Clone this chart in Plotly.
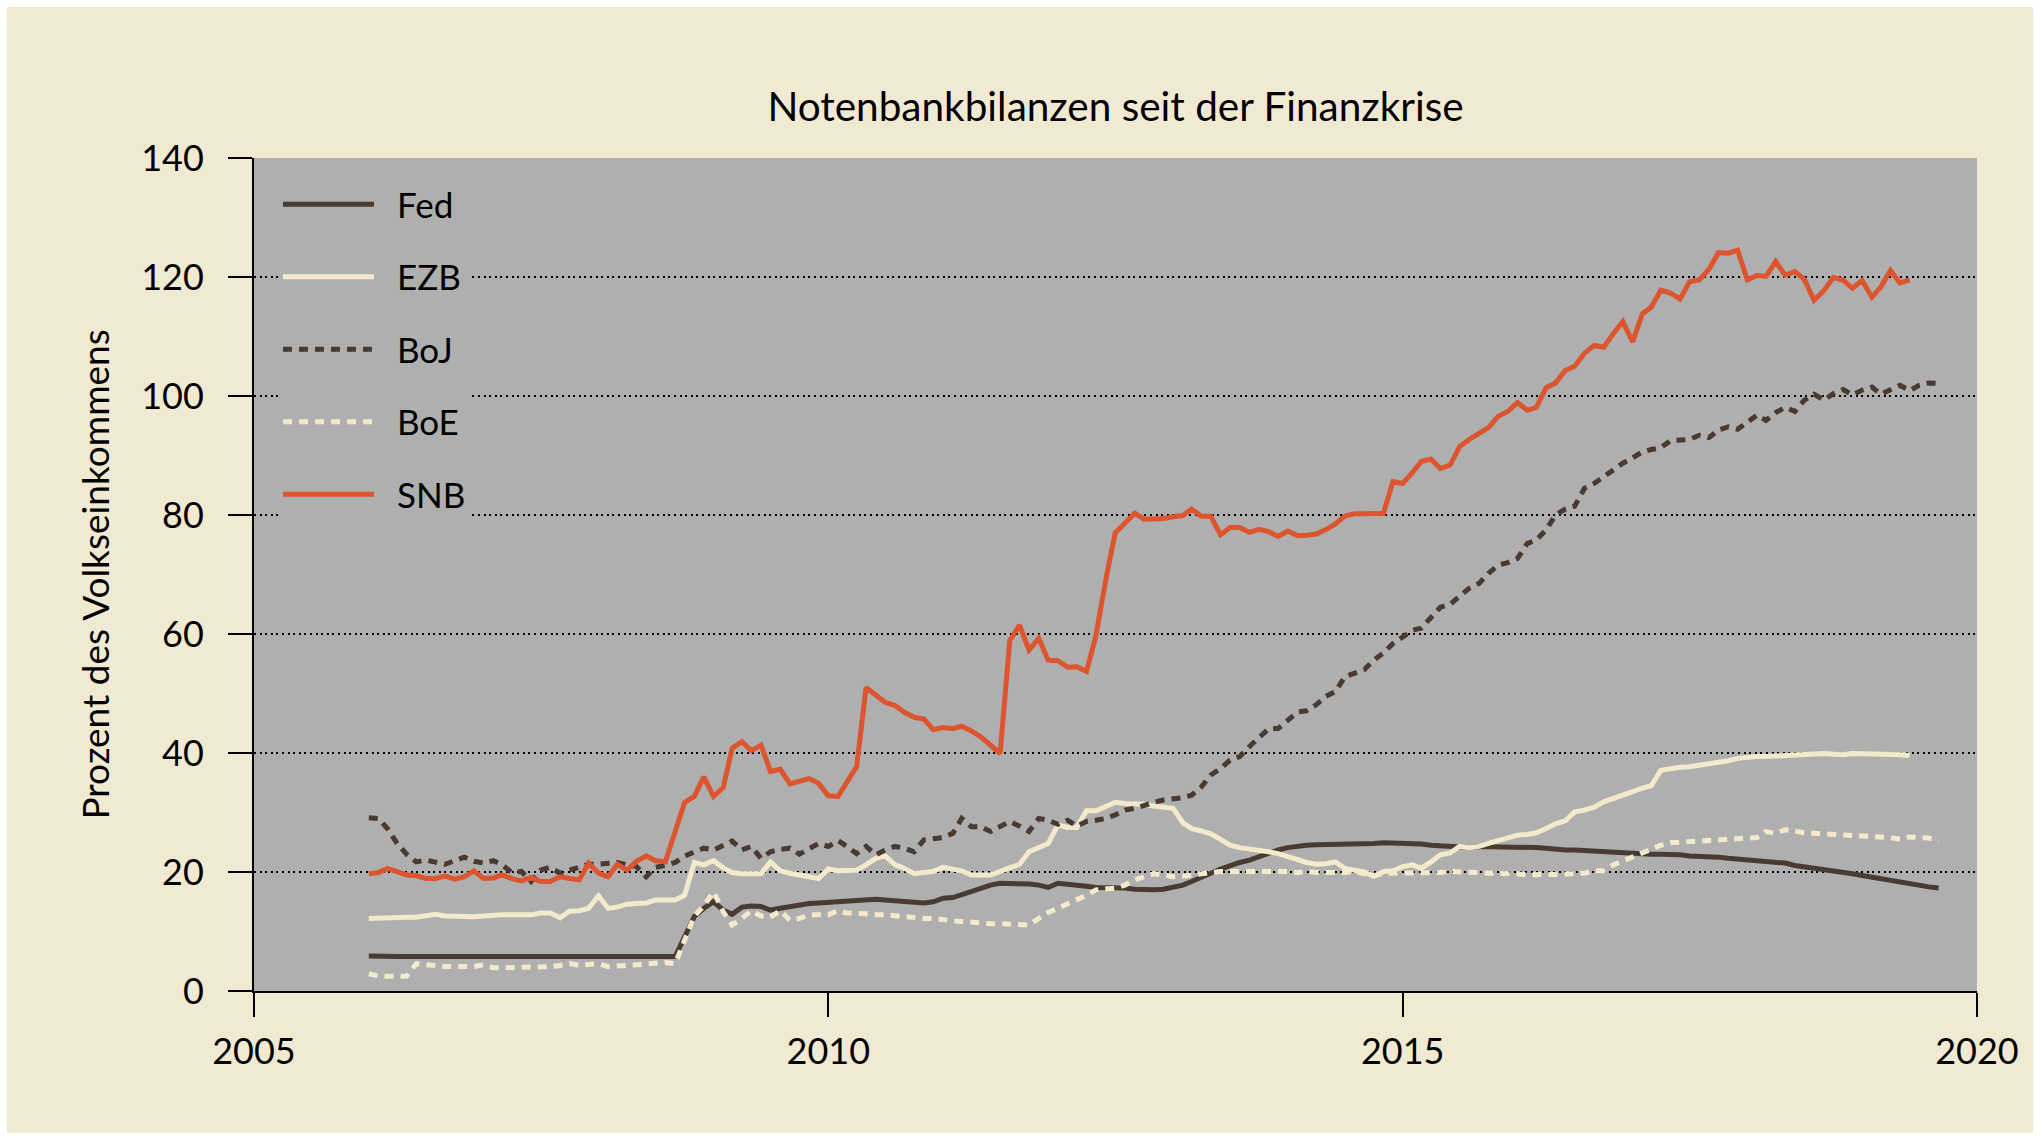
import pandas as pd
import plotly.graph_objects as go

# ---------------- data (percent of national income, monthly from Jan 2006) ----------------
fed = [5.9, 5.8, 5.8, 5.8, 5.8, 5.8, 5.8, 5.8, 5.8, 5.8,
       5.8, 5.7, 5.7, 5.7, 5.7, 5.7, 5.7, 5.7, 5.7, 5.7,
       5.7, 5.7, 5.7, 5.7, 5.7, 5.7, 5.7, 5.7, 5.7, 5.7,
       5.7, 5.7, 5.8, 9.1, 12.5, 13.9, 15.0, 13.6, 12.9, 14.1,
       14.3, 14.2, 13.6, 13.9, 14.2, 14.6, 14.7, 14.8, 14.9, 15.0,
       15.1, 15.3, 15.4, 15.4, 15.3, 15.2, 15.0, 14.9, 14.8, 15.0,
       15.6, 15.7, 16.2, 16.9, 17.4, 17.8, 18.1, 18.1, 18.0, 18.0,
       17.8, 17.4, 18.1, 18.0, 17.8, 17.6, 17.4, 17.4, 17.4, 17.3,
       17.1, 17.0, 17.0, 17.1, 17.4, 17.8, 18.4, 19.0, 19.8, 20.5,
       21.1, 21.6, 22.0, 22.6, 23.1, 23.7, 24.1, 24.4, 24.5, 24.6,
       24.6, 24.8, 24.8, 24.8, 24.7, 24.8, 24.9, 24.9, 24.9, 24.9,
       24.7, 24.5, 24.4, 24.3, 24.1, 24.1, 24.3, 24.3, 24.3, 24.3,
       24.2, 24.1, 24.1, 24.0, 23.8, 23.7, 23.7, 23.6, 23.4, 23.4,
       23.4, 23.1, 23.1, 23.0, 23.0, 23.0, 23.0, 22.9, 22.7, 22.7,
       22.6, 22.5, 22.3, 22.2, 22.1, 21.9, 21.7, 21.6, 21.5, 21.1,
       20.9, 20.6, 20.3, 20.2, 19.9, 19.7, 19.4, 19.1, 18.8, 18.5,
       18.2, 18.0, 17.8, 17.5, 17.3]

ezb = [12.2, 12.3, 12.4, 12.4, 12.4, 12.4, 12.6, 12.9, 12.6, 12.5,
       12.5, 12.5, 12.6, 12.8, 12.8, 12.8, 12.8, 12.8, 13.1, 13.1,
       12.3, 13.4, 13.5, 13.9, 16.0, 13.9, 14.1, 14.6, 14.7, 14.8,
       15.3, 15.2, 15.3, 16.1, 21.6, 21.2, 21.9, 20.7, 19.9, 19.7,
       19.7, 19.7, 21.7, 20.2, 19.8, 19.4, 19.2, 18.9, 20.5, 20.2,
       20.2, 20.3, 21.2, 22.3, 22.7, 21.2, 20.6, 19.7, 19.9, 20.1,
       20.8, 20.4, 20.2, 19.5, 19.5, 19.5, 20.1, 20.6, 21.3, 23.4,
       24.0, 24.8, 27.9, 27.5, 27.5, 30.3, 30.3, 30.9, 31.7, 31.5,
       31.5, 31.4, 31.1, 30.9, 30.7, 28.3, 27.3, 26.9, 26.4, 25.5,
       24.5, 24.1, 23.9, 23.6, 23.4, 23.1, 22.7, 22.1, 21.6, 21.3,
       21.4, 21.7, 20.6, 20.3, 20.0, 19.3, 20.1, 20.2, 20.9, 21.2,
       20.6, 21.7, 22.9, 23.2, 24.3, 24.1, 24.3, 24.8, 25.3, 25.7,
       26.2, 26.3, 26.6, 27.3, 28.1, 28.6, 30.1, 30.4, 30.9, 31.8,
       32.3, 32.8, 33.5, 34.1, 34.5, 37.1, 37.4, 37.6, 37.7, 37.9,
       38.1, 38.4, 38.7, 39.1, 39.3, 39.4, 39.4, 39.5, 39.5, 39.6,
       39.8, 39.9, 39.9, 39.8, 39.7, 39.9, 39.9, 39.9, 39.8, 39.8,
       39.7, 39.6]

boj = [29.1, 29.0, 27.3, 24.8, 23.0, 21.7, 22.0, 21.6, 21.3, 21.9,
       22.5, 21.8, 21.5, 21.9, 21.2, 19.9, 20.1, 18.4, 20.3, 20.8,
       19.8, 20.3, 20.9, 21.3, 21.3, 21.5, 21.6, 21.2, 20.9, 19.2,
       20.8, 21.1, 21.6, 22.7, 23.4, 24.0, 23.7, 24.4, 25.2, 23.7,
       24.3, 22.3, 23.4, 23.8, 24.0, 23.0, 23.8, 24.8, 24.3, 25.3,
       24.3, 23.1, 24.3, 22.9, 23.7, 24.3, 24.0, 23.4, 25.4, 25.7,
       25.8, 26.5, 29.0, 27.6, 27.6, 26.8, 27.6, 28.5, 27.7, 26.8,
       29.0, 28.7, 28.0, 28.7, 27.7, 28.5, 28.7, 29.0, 29.6, 30.4,
       30.7, 31.3, 31.7, 32.1, 32.3, 32.5, 32.9, 34.3, 36.3, 37.4,
       38.8, 39.4, 41.1, 42.6, 44.1, 44.1, 45.5, 46.9, 47.1, 48.1,
       49.5, 50.3, 52.8, 53.4, 54.0, 55.6, 56.8, 58.4, 59.6, 60.6,
       61.0, 62.8, 64.5, 65.0, 66.3, 67.7, 68.5, 70.2, 71.6, 72.0,
       72.7, 75.2, 75.8, 77.5, 80.0, 81.0, 81.5, 84.5, 85.3, 86.4,
       87.7, 88.7, 89.6, 90.6, 91.0, 91.3, 92.5, 92.6, 92.7, 93.4,
       93.0, 94.3, 94.8, 94.4, 95.7, 96.8, 95.9, 97.2, 98.1, 97.4,
       99.3, 100.3, 99.3, 100.4, 101.1, 100.2, 101.0, 101.5, 100.3, 101.0,
       101.8, 100.9, 101.8, 102.2, 102.1]

boe = [2.9, 2.5, 2.5, 2.5, 2.5, 4.6, 4.4, 4.3, 4.1, 4.1,
       4.1, 4.1, 4.4, 3.9, 3.9, 3.9, 3.9, 3.9, 3.9, 4.1,
       4.3, 4.6, 4.3, 4.4, 4.6, 4.1, 4.1, 4.3, 4.4, 4.5,
       4.6, 4.8, 4.6, 8.6, 12.6, 14.3, 16.7, 13.3, 11.1, 12.2,
       13.5, 12.6, 12.4, 13.5, 11.9, 12.2, 12.8, 12.8, 12.8, 13.5,
       13.1, 13.1, 12.9, 12.8, 12.8, 12.6, 12.4, 12.2, 12.2, 12.2,
       11.9, 11.8, 11.7, 11.5, 11.5, 11.3, 11.3, 11.2, 11.1, 11.1,
       12.2, 13.2, 13.9, 14.6, 15.3, 16.1, 17.0, 17.1, 17.3, 17.8,
       18.7, 19.2, 19.7, 19.5, 19.2, 19.3, 19.5, 19.7, 19.9, 20.1,
       20.1, 20.1, 20.1, 20.1, 20.2, 20.1, 20.1, 19.9, 20.1, 19.9,
       19.9, 19.8, 19.9, 20.1, 19.8, 19.3, 19.8, 19.8, 19.7, 19.8,
       19.7, 19.8, 19.9, 20.1, 20.1, 20.1, 19.9, 19.8, 19.8, 19.8,
       19.7, 19.5, 19.6, 19.6, 19.6, 19.6, 19.6, 19.8, 20.2, 20.2,
       21.2, 21.9, 22.6, 23.3, 24.0, 24.5, 24.9, 25.0, 25.1, 25.3,
       25.5, 25.5, 25.6, 25.7, 25.7, 25.8, 26.8, 26.5, 27.1, 26.8,
       26.6, 26.5, 26.4, 26.4, 26.3, 26.2, 26.1, 26.1, 25.9, 25.8,
       25.5, 25.9, 25.8, 25.7, 25.3]

snb = [19.7, 19.9, 20.6, 20.1, 19.5, 19.4, 18.9, 18.9, 19.3, 18.8,
       19.2, 20.2, 18.9, 19.0, 19.5, 18.9, 18.5, 19.1, 18.4, 18.4,
       19.2, 18.9, 18.7, 21.5, 19.8, 19.2, 21.3, 20.3, 21.8, 22.7,
       21.9, 21.7, 27.1, 31.7, 32.7, 36.0, 32.7, 34.2, 40.8, 41.9,
       40.4, 41.3, 36.9, 37.3, 34.8, 35.2, 35.7, 34.9, 32.8, 32.7,
       34.9, 37.7, 51.0, 49.7, 48.5, 48.0, 46.8, 46.0, 45.7, 43.9,
       44.3, 44.1, 44.5, 43.7, 42.7, 41.3, 39.9, 58.9, 61.5, 57.3,
       59.3, 55.6, 55.5, 54.4, 54.5, 53.7, 59.8, 69.1, 77.0, 78.6,
       80.3, 79.3, 79.3, 79.4, 79.7, 79.9, 81.0, 79.8, 79.8, 76.7,
       77.9, 77.9, 77.1, 77.6, 77.2, 76.4, 77.3, 76.5, 76.6, 76.8,
       77.5, 78.5, 79.8, 80.2, 80.2, 80.3, 80.3, 85.6, 85.3, 87.1,
       89.0, 89.4, 87.8, 88.4, 91.5, 92.7, 93.7, 94.7, 96.6, 97.4,
       98.9, 97.6, 98.1, 101.4, 102.2, 104.3, 105.0, 107.2, 108.5, 108.2,
       110.5, 112.5, 109.1, 113.8, 114.9, 117.8, 117.3, 116.3, 119.2, 119.5,
       121.3, 124.1, 124.0, 124.5, 119.5, 120.3, 120.1, 122.6, 120.3, 120.9,
       119.6, 116.1, 117.7, 119.9, 119.5, 118.1, 119.4, 116.6, 118.3, 121.1,
       119.0, 119.5]

start_month = "2006-01-01"
series_names = ["Fed", "EZB", "BoJ", "BoE", "SNB"]
series_values = [fed, ezb, boj, boe, snb]
x_ticks = ["2005-01-01", "2010-01-01", "2015-01-01", "2020-01-01"]
x_tick_labels = ["2005", "2010", "2015", "2020"]
y_ticks = [0, 20, 40, 60, 80, 100, 120, 140]

# ---------------- styles ----------------
DARK = "#4a3b32"
CREAM = "#f2eacb"
ORANGE = "#dc552f"
PAGE = "#f0ead3"
PLOT = "#afafaf"
FONT = "Lato"
LEGEND_PAD = "\u00a0\u00a0"   # extra gap between legend sample and label

styles = {
    "Fed": dict(color=DARK, dash="solid"),
    "EZB": dict(color=CREAM, dash="solid"),
    "BoJ": dict(color=DARK, dash="9px,7px"),
    "BoE": dict(color=CREAM, dash="9px,7px"),
    "SNB": dict(color=ORANGE, dash="solid"),
}

fig = go.Figure()
for name, vals in zip(series_names, series_values):
    dates = pd.date_range(start_month, periods=len(vals), freq="MS")
    st = styles[name]
    fig.add_trace(go.Scatter(
        x=dates, y=vals, mode="lines", name=LEGEND_PAD + name, legendgroup=name,
        line=dict(color=st["color"], width=5, dash=st["dash"]),
        hovertemplate=name + ": %{y:.1f}<extra></extra>",
    ))

W, H = 2042, 1140
L, R, T, B = 254, 65, 158, 149
pw, ph = W - L - R, H - T - B

def px_x(p):
    return (p - L) / pw

def px_y(p):
    return (H - B - p) / ph

fig.update_layout(
    width=W, height=H, autosize=False,
    margin=dict(l=L, r=R, t=T, b=B, pad=0),
    paper_bgcolor="white",
    plot_bgcolor=PLOT,
    font=dict(family=FONT, size=36, color="black"),
    showlegend=True,
    title=dict(text="Notenbankbilanzen seit der Finanzkrise",
               x=0.5, xref="paper", xanchor="center",
               y=1 - 107 / H, yref="container", yanchor="middle",
               font=dict(family=FONT, size=40.5, color="black")),
    legend=dict(x=px_x(278), y=px_y(175), xanchor="left", yanchor="top",
                bgcolor=PLOT, borderwidth=0, itemwidth=91,
                tracegroupgap=24, font=dict(family=FONT, size=35, color="black"),
                traceorder="grouped"),
    shapes=[
        dict(type="rect", xref="paper", yref="paper", layer="below",
             x0=px_x(7), x1=px_x(2033), y0=px_y(1133), y1=px_y(7),
             fillcolor=PAGE, line=dict(width=0)),
        dict(type="rect", xref="paper", yref="paper", layer="below",
             x0=0, x1=1, y0=0, y1=1, fillcolor=PLOT, line=dict(width=0)),
    ],
    annotations=[
        dict(text="Prozent des Volkseinkommens", xref="paper", yref="paper",
             x=px_x(94), y=0.5, xanchor="center", yanchor="middle",
             textangle=-90, showarrow=False,
             font=dict(family=FONT, size=37, color="black")),
    ],
)

fig.update_xaxes(
    type="date", range=["2005-01-01", "2020-01-01"],
    tickmode="array", tickvals=x_ticks, ticktext=x_tick_labels,
    showgrid=False, zeroline=False,
    showline=True, linecolor="black", linewidth=2,
    ticks="outside", ticklen=24, tickwidth=2, tickcolor="black",
    ticklabelstandoff=4,
    tickfont=dict(family=FONT, size=36, color="black"),
)
fig.update_yaxes(
    range=[0, 140], tickmode="array", tickvals=y_ticks,
    showgrid=True, gridcolor="black", gridwidth=1.5, griddash="2px,3.6px",
    zeroline=False,
    showline=True, linecolor="black", linewidth=2,
    ticks="outside", ticklen=24, tickwidth=2, tickcolor="black",
    ticklabelstandoff=17,
    tickfont=dict(family=FONT, size=36, color="black"),
)

fig.write_html("out.html", config={"displayModeBar": False},
               post_script="document.body.style.margin='0px';document.body.style.overflow='hidden';")
